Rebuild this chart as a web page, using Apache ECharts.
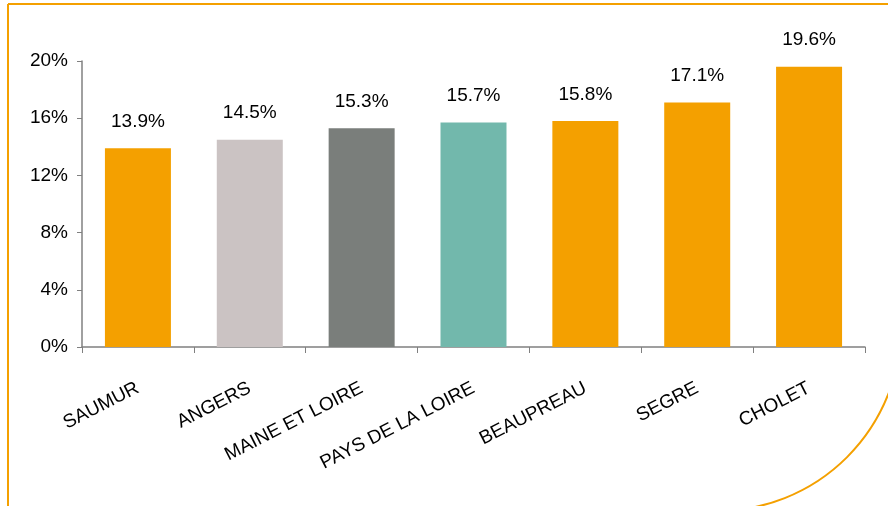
<!DOCTYPE html>
<html><head><meta charset="utf-8">
<script src="https://cdn.jsdelivr.net/npm/echarts@6/dist/echarts.min.js"></script>
<style>html,body{margin:0;padding:0;background:#fff}#c{width:888px;height:506px}</style>
</head><body><div id="c"></div>
<script>
const categories = ['SAUMUR','ANGERS','MAINE ET LOIRE','PAYS DE LA LOIRE','BEAUPREAU','SEGRE','CHOLET'];
const values = [13.9, 14.5, 15.3, 15.7, 15.8, 17.1, 19.6];
const barColors = ['#F4A000','#CBC3C3','#7A7E7B','#72B8AC','#F4A000','#F4A000','#F4A000'];
const yTicks = [0, 4, 8, 12, 16, 20];

const chart = echarts.init(document.getElementById('c'));
chart.setOption({
  animation: false,
  graphic: [{
    type: 'rect', silent: true,
    shape: {x: 8, y: 4, width: 893, height: 507, r: [0, 0, 184, 0]},
    style: {fill: 'none', stroke: '#F4A000', lineWidth: 2}
  }],
  grid: {left: 82, right: 23, top: 61, bottom: 159},
  xAxis: {
    type: 'category', data: categories,
    axisLine: {lineStyle: {color: '#808080', width: 1.5}},
    axisTick: {show: true, length: 6, alignWithLabel: false, lineStyle: {color: '#808080'}},
    axisLabel: {
      interval: 0, rotate: 27, margin: 40, color: '#000',
      fontFamily: 'Liberation Sans, Arial', fontSize: 19
    }
  },
  yAxis: {
    type: 'value', min: 0, max: 20, interval: 4,
    axisLine: {show: true, lineStyle: {color: '#808080', width: 1.5}},
    axisTick: {show: true, length: 5, lineStyle: {color: '#808080'}},
    splitLine: {show: false},
    axisLabel: {
      margin: 14, color: '#000', fontFamily: 'Liberation Sans, Arial', fontSize: 19,
      formatter: v => yTicks.includes(v) ? v + '%' : ''
    }
  },
  series: [{
    type: 'bar', barCategoryGap: '41%',
    data: values.map((v, i) => ({value: v, itemStyle: {color: barColors[i]}})),
    label: {
      show: true, position: 'top', distance: 17, color: '#000',
      fontFamily: 'Liberation Sans, Arial', fontSize: 19,
      formatter: p => p.value.toFixed(1) + '%'
    }
  }]
});
</script></body></html>
